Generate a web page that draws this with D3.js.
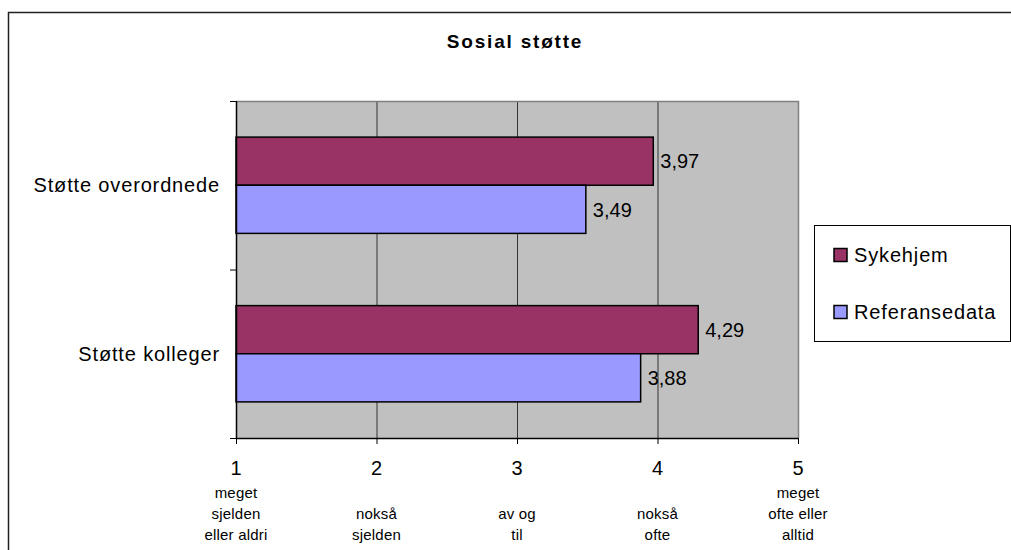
<!DOCTYPE html>
<html>
<head>
<meta charset="utf-8">
<script src="https://cdn.jsdelivr.net/npm/d3@7"></script>
<style>
  html, body { margin: 0; padding: 0; background: #fff; }
  svg { display: block; font-family: "Liberation Sans", Arial, sans-serif; }
</style>
</head>
<body>
<svg id="chart" width="1011" height="550"></svg>
<script>
// Scale statements and the two respondent groups
const categories = ["Støtte overordnede", "Støtte kolleger"];
const seriesNames = ["Sykehjem", "Referansedata"];
const sykehjem = [3.97, 4.29];
const referansedata = [3.49, 3.88];
const seriesColors = ["#993366", "#9999FF"];
const tickValues = [1, 2, 3, 4, 5];
const tickNotes = [
  ["meget", "sjelden", "eller aldri"],
  ["", "nokså", "sjelden"],
  ["", "av og", "til"],
  ["", "nokså", "ofte"],
  ["meget", "ofte eller", "alltid"]
];
const title = "Sosial støtte";

const seriesValues = [sykehjem, referansedata];
const rows = categories.map((c, i) => ({
  category: c,
  values: seriesNames.map((s, j) => ({ series: s, value: seriesValues[j][i], color: seriesColors[j] }))
}));

const nb = d3.formatLocale({ decimal: ",", thousands: " ", grouping: [3], currency: ["", " kr"] });
const fmt = nb.format(".2f");

const svg = d3.select("#chart");

// outer chart frame
svg.append("rect")
  .attr("x", 8.5).attr("y", 12.5)
  .attr("width", 1100).attr("height", 600)
  .attr("fill", "#fff").attr("stroke", "#222").attr("stroke-width", 1.5);

const plot = { left: 236, right: 798, top: 101, bottom: 438 };

const x = d3.scaleLinear().domain([1, 5]).range([plot.left, plot.right]);
const y0 = d3.scaleBand().domain(categories).range([plot.top, plot.bottom]).padding(0);
const y1 = d3.scaleBand().domain(seriesNames).range([0, y0.bandwidth()])
  .paddingInner(0).paddingOuter(0.75);

// plot background
svg.append("rect")
  .attr("x", plot.left).attr("y", plot.top)
  .attr("width", plot.right - plot.left).attr("height", plot.bottom - plot.top)
  .attr("fill", "#C0C0C0");

// vertical gridlines
svg.append("g")
  .selectAll("line")
  .data(tickValues.slice(1, -1))
  .join("line")
  .attr("x1", d => x(d) + 0.5).attr("x2", d => x(d) + 0.5)
  .attr("y1", plot.top).attr("y2", plot.bottom)
  .attr("stroke", "#333").attr("stroke-width", 1);

// plot border (top and right)
svg.append("path")
  .attr("d", `M${plot.left},${plot.top + 0.5}H${plot.right + 0.5}V${plot.bottom}`)
  .attr("fill", "none").attr("stroke", "#808080").attr("stroke-width", 1.5);

// bars
const groups = svg.append("g")
  .selectAll("g")
  .data(rows)
  .join("g")
  .attr("transform", d => `translate(0,${y0(d.category)})`);

groups.selectAll("rect")
  .data(d => d.values)
  .join("rect")
  .attr("x", x(1))
  .attr("y", d => y1(d.series))
  .attr("width", d => x(d.value) - x(1))
  .attr("height", y1.bandwidth())
  .attr("fill", d => d.color)
  .attr("stroke", "#000")
  .attr("stroke-width", 1.5);

groups.selectAll("text")
  .data(d => d.values)
  .join("text")
  .attr("x", d => x(d.value) + 7)
  .attr("y", d => y1(d.series) + y1.bandwidth() / 2)
  .attr("dy", "0.36em")
  .attr("font-size", 20)
  .attr("fill", "#000")
  .text(d => fmt(d.value));

// x axis
const xAxis = svg.append("g")
  .attr("transform", `translate(0,${plot.bottom})`)
  .call(d3.axisBottom(x).tickValues(tickValues).tickSize(6).tickFormat(""));
xAxis.select(".domain").attr("stroke", "#000").attr("stroke-width", 1.5)
  .attr("d", `M${plot.left},0.5H${plot.right}`);
xAxis.selectAll(".tick line").attr("stroke", "#000");

const tickLabels = svg.append("g")
  .selectAll("g")
  .data(tickValues)
  .join("g")
  .attr("transform", d => `translate(${x(d)},0)`);

tickLabels.append("text")
  .attr("y", 475)
  .attr("text-anchor", "middle")
  .attr("font-size", 20)
  .text(d => d);

tickLabels.each(function(d, i) {
  const g = d3.select(this);
  tickNotes[i].forEach((line, k) => {
    if (!line) return;
    g.append("text")
      .attr("y", 498 + k * 21)
      .attr("text-anchor", "middle")
      .attr("font-size", 15)
      .attr("letter-spacing", 0.2)
      .text(line);
  });
});

// y axis with ticks between categories
const yEdges = categories.map(c => y0(c)).concat([plot.bottom]);
svg.append("line")
  .attr("x1", plot.left + 0.5).attr("x2", plot.left + 0.5)
  .attr("y1", plot.top).attr("y2", plot.bottom + 0.5)
  .attr("stroke", "#000").attr("stroke-width", 1.5);
svg.append("g")
  .selectAll("line")
  .data(yEdges)
  .join("line")
  .attr("x1", plot.left - 6).attr("x2", plot.left)
  .attr("y1", d => d + 0.5).attr("y2", d => d + 0.5)
  .attr("stroke", "#000");

svg.append("g")
  .selectAll("text")
  .data(categories)
  .join("text")
  .attr("x", 220)
  .attr("y", d => y0(d) + y0.bandwidth() / 2)
  .attr("dy", "0.36em")
  .attr("text-anchor", "end")
  .attr("font-size", 20)
  .attr("letter-spacing", 0.85)
  .text(d => d);

// title
svg.append("text")
  .attr("x", 515)
  .attr("y", 48)
  .attr("text-anchor", "middle")
  .attr("font-size", 19)
  .attr("font-weight", "bold")
  .attr("letter-spacing", 1.8)
  .text(title);

// legend
const legend = svg.append("g");
legend.append("rect")
  .attr("x", 814.5).attr("y", 225.5)
  .attr("width", 196).attr("height", 116)
  .attr("fill", "#fff").attr("stroke", "#000").attr("stroke-width", 1);

const legendItems = legend.selectAll("g")
  .data(seriesNames)
  .join("g")
  .attr("transform", (d, i) => `translate(0,${255 + i * 57})`);
legendItems.append("rect")
  .attr("x", 834).attr("y", -6.5)
  .attr("width", 13).attr("height", 13)
  .attr("fill", (d, i) => seriesColors[i])
  .attr("stroke", "#000").attr("stroke-width", 1.5);
legendItems.append("text")
  .attr("x", 854).attr("dy", "0.36em")
  .attr("font-size", 20)
  .attr("letter-spacing", 0.85)
  .text(d => d);
</script>
</body>
</html>
